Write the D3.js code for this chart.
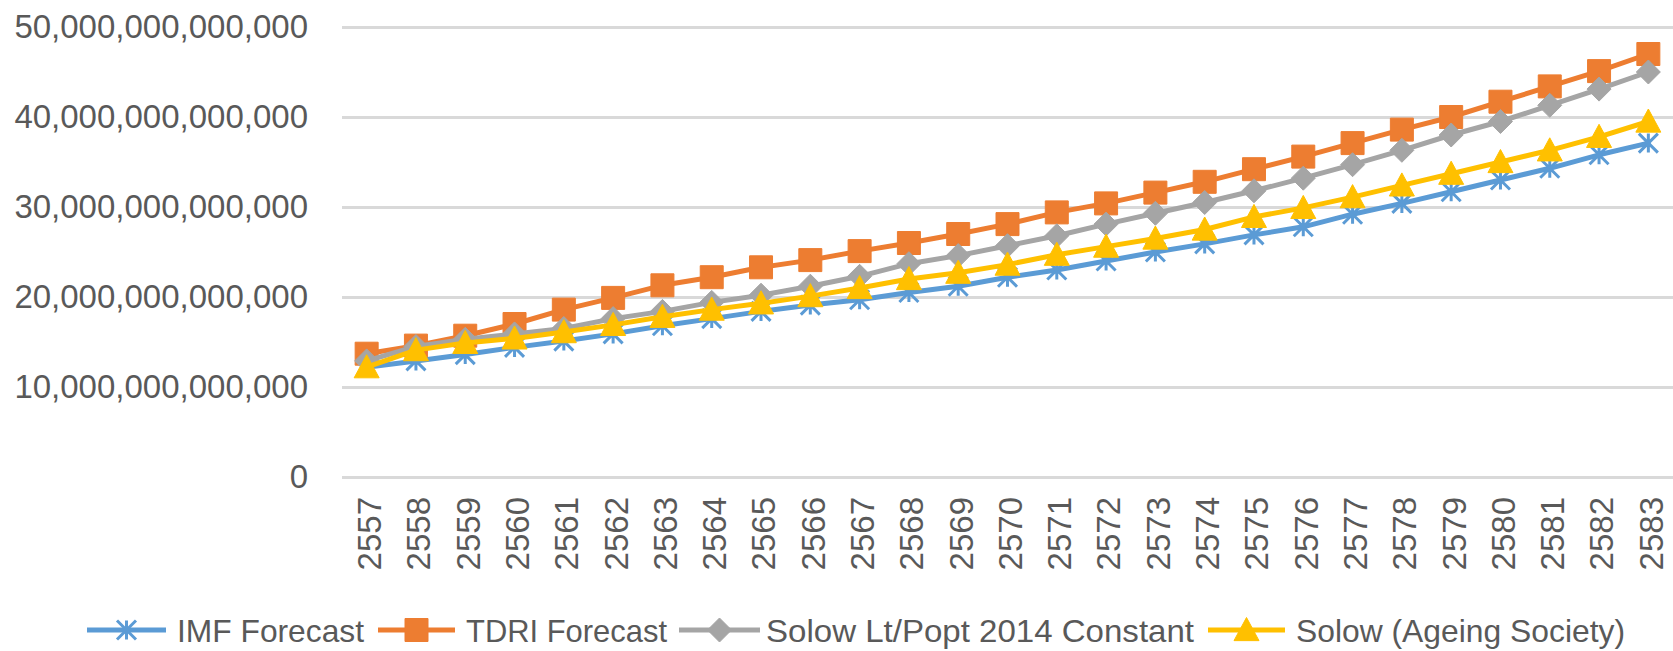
<!DOCTYPE html>
<html>
<head>
<meta charset="utf-8">
<script src="https://cdn.jsdelivr.net/npm/d3@7/dist/d3.min.js"></script>
<style>
  html, body { margin: 0; padding: 0; background: #fff; }
  svg { display: block; }
  text { font-family: "Liberation Sans", Arial, sans-serif; fill: #595959; }
</style>
</head>
<body>
<svg id="chart" width="1673" height="651"></svg>
<script>
// ---- data (values in baht) ----
const years = ["2557","2558","2559","2560","2561","2562","2563","2564","2565","2566","2567","2568","2569","2570","2571","2572","2573","2574","2575","2576","2577","2578","2579","2580","2581","2582","2583"];
const T = 1e12;
const imfForecast = [12.2,12.9,13.6,14.4,15.1,15.9,16.8,17.6,18.4,19.1,19.7,20.5,21.2,22.2,23.0,24.0,25.0,25.9,26.9,27.8,29.2,30.4,31.7,33.0,34.3,35.8,37.1].map(v => v * T);
const tdriForecast = [13.7,14.6,15.7,17.0,18.6,19.9,21.3,22.2,23.3,24.1,25.1,26.0,27.0,28.1,29.4,30.4,31.6,32.8,34.2,35.6,37.1,38.6,40.0,41.7,43.4,45.1,47.0].map(v => v * T);
const solowConstant = [12.9,14.5,15.3,15.9,16.5,17.6,18.4,19.4,20.2,21.2,22.3,23.7,24.6,25.7,26.8,28.1,29.3,30.5,31.8,33.2,34.7,36.3,38.0,39.5,41.3,43.1,45.0].map(v => v * T);
const solowAgeing = [12.2,14.1,14.9,15.4,16.1,16.9,17.8,18.6,19.3,20.1,21.0,22.0,22.7,23.6,24.7,25.6,26.5,27.5,28.9,29.9,31.1,32.4,33.7,35.0,36.3,37.8,39.5].map(v => v * T);
const yTicks = [0, 10*T, 20*T, 30*T, 40*T, 50*T];
const seriesNames = ["IMF Forecast", "TDRI Forecast", "Solow Lt/Popt 2014 Constant", "Solow (Ageing Society)"];
const seriesColors = ["#5B9BD5", "#ED7D31", "#A5A5A5", "#FFC000"];
const seriesMarkers = ["star", "square", "diamond", "triangle"];
const seriesValues = [imfForecast, tdriForecast, solowConstant, solowAgeing];

// ---- layout ----
const svg = d3.select("#chart");
const plotLeft = 342, plotRight = 1673, plotTop = 27, plotBottom = 477;

const x = d3.scalePoint().domain(years).range([plotLeft, plotRight]).padding(0.5);
const y = d3.scaleLinear().domain([0, 50*T]).range([plotBottom, plotTop]);

// gridlines + y labels
const yAxis = d3.axisLeft(y).tickValues(yTicks).tickFormat(d3.format(",.0f")).tickSize(-(plotRight - plotLeft)).tickPadding(34);
const gy = svg.append("g").attr("transform", `translate(${plotLeft},0)`).call(yAxis);
gy.select(".domain").remove();
gy.selectAll(".tick line").attr("stroke", "#D9D9D9").attr("stroke-width", 3);
gy.selectAll(".tick text").attr("font-size", 33).attr("fill", "#595959")
  .style("font-family", '"Liberation Sans", Arial, sans-serif');

// x labels
const xAxis = d3.axisBottom(x).tickSize(0).tickPadding(0);
const gx = svg.append("g").attr("transform", `translate(0,${plotBottom})`).call(xAxis);
gx.select(".domain").remove();
gx.selectAll(".tick text")
  .attr("font-size", 33)
  .attr("fill", "#595959")
  .style("font-family", '"Liberation Sans", Arial, sans-serif')
  .attr("text-anchor", "end")
  .attr("transform", "translate(2,20) rotate(-90)")
  .attr("x", 0).attr("y", 0).attr("dy", "0.36em");

// marker path generator
function markerPath(type, s) {
  const p = d3.path();
  const h = s / 2;
  if (type === "square") {
    p.rect(-h, -h, s, s);
  } else if (type === "diamond") {
    p.moveTo(0, -h); p.lineTo(h, 0); p.lineTo(0, h); p.lineTo(-h, 0); p.closePath();
  } else if (type === "triangle") {
    p.moveTo(0, -h); p.lineTo(h, h * 0.85); p.lineTo(-h, h * 0.85); p.closePath();
  } else if (type === "star") {
    p.moveTo(-h, -h); p.lineTo(h, h);
    p.moveTo(h, -h); p.lineTo(-h, h);
    p.moveTo(0, -h); p.lineTo(0, h);
  }
  return p.toString();
}
const markerSize = { square: 23, diamond: 24, triangle: 25, star: 19 };

function drawMarker(g, type, color, cx, cy) {
  const m = g.append("path").attr("d", markerPath(type, markerSize[type]))
    .attr("transform", `translate(${cx},${cy})`);
  if (type === "star") m.attr("fill", "none").attr("stroke", color).attr("stroke-width", 3);
  else m.attr("fill", color).attr("stroke", color).attr("stroke-width", 1);
}

const line = d3.line().x((d, i) => x(years[i])).y(d => y(d));

seriesValues.forEach((vals, si) => {
  const g = svg.append("g");
  g.append("path").datum(vals).attr("d", line)
    .attr("fill", "none").attr("stroke", seriesColors[si]).attr("stroke-width", 5)
    .attr("stroke-linejoin", "round").attr("stroke-linecap", "round");
  vals.forEach((v, i) => drawMarker(g, seriesMarkers[si], seriesColors[si], x(years[i]), y(v)));
});

// legend
const legendY = 630;
const legendItems = [
  { x0: 87, x1: 166, tx: 177, tw: 187 },
  { x0: 378, x1: 455, tx: 466, tw: 201 },
  { x0: 679, x1: 760, tx: 766, tw: 428 },
  { x0: 1208, x1: 1285, tx: 1296, tw: 329 }
];
const lg = svg.append("g");
legendItems.forEach((it, si) => {
  lg.append("line").attr("x1", it.x0).attr("x2", it.x1).attr("y1", legendY).attr("y2", legendY)
    .attr("stroke", seriesColors[si]).attr("stroke-width", 5);
  drawMarker(lg, seriesMarkers[si], seriesColors[si], (it.x0 + it.x1) / 2, legendY);
  lg.append("text").attr("x", it.tx).attr("y", legendY).attr("dy", "0.36em")
    .attr("font-size", 32).attr("textLength", it.tw).attr("lengthAdjust", "spacingAndGlyphs")
    .text(seriesNames[si]);
});
</script>
</body>
</html>
